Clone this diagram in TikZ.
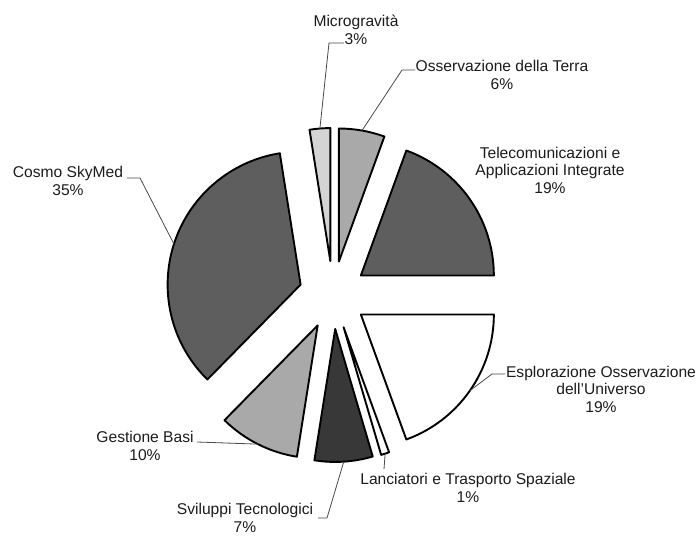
\documentclass[tikz,border=0pt]{standalone}
\usepackage{fontspec}
\setmainfont{Liberation Sans}
\usetikzlibrary{calc}
\definecolor{midgray}{HTML}{5E5E5E}
\definecolor{lightgray}{HTML}{A9A9A9}
\definecolor{palegray}{HTML}{D4D4D4}
\definecolor{darkslice}{HTML}{383838}
\definecolor{txt}{HTML}{1C1C1C}
\tikzset{
  slice/.style={draw=black, line width=1.9pt, line join=round},
  lbl/.style={align=center, text=txt, inner sep=0pt, font=\fontsize{15.6}{17.5}\selectfont},
  leader/.style={draw=txt!80, line width=0.8pt}
}
\newcommand\pieslice[4]{%
  \coordinate (#1) at ({(#2+#3)/2}:34);
  \draw[slice, fill=#4] (#1) -- ++(#2:133) arc[start angle=#2, end angle=#3, radius=133] -- cycle;
  \coordinate (#1arc) at ($(#1)+({(#2+#3)/2}:133)$);
}
\begin{document}
\begin{tikzpicture}[x=1pt,y=-1pt]
\useasboundingbox[fill=white] (0,0) rectangle (698,537);
\begin{scope}[shift={(333,295)}]
  \pieslice{oss}{-90}{-70}{lightgray}
  \pieslice{tel}{-70}{0}{midgray}
  \pieslice{esp}{0}{70}{white}
  \pieslice{lan}{70}{73.6}{white}
  \pieslice{svi}{73.6}{99}{darkslice}
  \pieslice{ges}{99}{134.5}{lightgray}
  \pieslice{cos}{134.5}{261}{midgray}
  \pieslice{mic}{261}{270}{palegray}
\end{scope}

% labels
\node[lbl] (micL) at (356,30) {Microgravità\\3\%};
\node[lbl] (ossL) at (502,75) {Osservazione della Terra\\6\%};
\node[lbl] (telL) at (550,170) {Telecomunicazioni e\\Applicazioni Integrate\\19\%};
\node[lbl] (espL) at (601,389) {Esplorazione Osservazione\\dell'Universo\\19\%};
\node[lbl] (lanL) at (468,488) {Lanciatori e Trasporto Spaziale\\1\%};
\node[lbl] (sviL) at (245,518) {Sviluppi Tecnologici\\7\%};
\node[lbl] (gesL) at (145,446) {Gestione Basi\\10\%};
\node[lbl] (cosL) at (68,181) {Cosmo SkyMed\\35\%};

% leader bend points
\coordinate (micA) at (344,43);
\coordinate (micB) at (329,43);
\coordinate (ossA) at (415,70);
\coordinate (ossB) at (402,70);
\coordinate (espA) at (505,374);
\coordinate (espB) at (492,374);
\coordinate (lanA) at (384,469);
\coordinate (sviA) at (318,518);
\coordinate (sviB) at (327,518);
\coordinate (gesA) at (197,442);
\coordinate (cosA) at (127,178);
\coordinate (cosB) at (140,178);

\draw[leader] (micA) -- (micB) -- (micarc);
\draw[leader] (ossA) -- (ossB) -- (ossarc);
\draw[leader] (espA) -- (espB) -- (esparc);
\draw[leader] (lanA) -- (lanarc);
\draw[leader] (sviA) -- (sviB) -- (sviarc);
\draw[leader] (gesA) -- (gesarc);
\draw[leader] (cosA) -- (cosB) -- (cosarc);
\end{tikzpicture}
\end{document}
